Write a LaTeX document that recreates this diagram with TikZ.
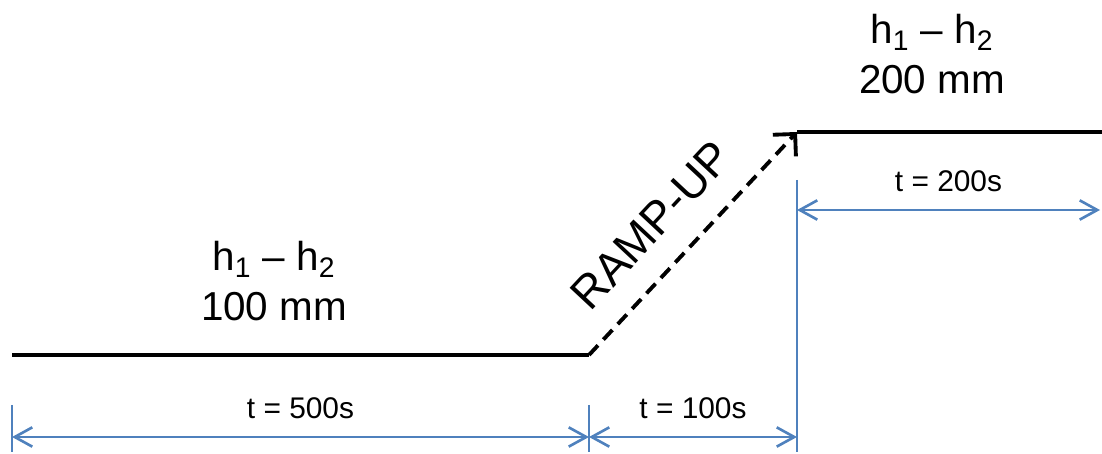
\documentclass[tikz,border=0pt]{standalone}
\usepackage{fontspec}
\setmainfont{Liberation Sans}
\usepackage{tikz}
\usetikzlibrary{positioning,arrows.meta}

\definecolor{dimblue}{RGB}{79,129,189}

\begin{document}
\begin{tikzpicture}[
    x=0.02cm, y=0.02cm,
    level/.style={line width=2.4pt},
    ramp/.style={line width=2.2pt, dash pattern=on 7.5pt off 4.5pt, -{Straight Barb[length=9pt,width=18pt]}},
    tick/.style={draw=dimblue, line width=1.5pt},
    dim/.style={draw=dimblue, line width=1.5pt, {Straight Barb[length=10pt,width=11pt]}-{Straight Barb[length=10pt,width=11pt]}},
    big/.style={font=\fontsize{23}{28}\selectfont, align=center},
    small/.style={font=\fontsize{17}{20}\selectfont}
]
    \useasboundingbox (0,0) rectangle (1102,453);

    \coordinate (start) at (12,98);
    \coordinate (rampstart) at (589,98);
    \coordinate (rampend) at (797,321);
    \coordinate (stop) at (1102,321);

    \coordinate (m0top) at (12,48);
    \coordinate (m0bot) at (12,1);
    \coordinate (m1top) at (589,48);
    \coordinate (m1bot) at (589,1);
    \coordinate (m2top) at (797,273);
    \coordinate (m2bot) at (797,1);
    \coordinate (d0) at (12,16);
    \coordinate (d1) at (589,16);
    \coordinate (d2) at (797,16);
    \coordinate (u0) at (797,243);
    \coordinate (u1) at (1100,243);

    \draw[level] (start) -- (rampstart);
    \draw[ramp] (rampstart) -- (rampend)
        node[sloped, above=11pt, pos=0.45, font=\fontsize{26}{30}\selectfont] (rampup) {RAMP-UP};
    \draw[level] (rampend) -- (stop);

    \node[big] (low) at (274,172) {h\textsubscript{1} – h\textsubscript{2}\\100 mm};
    \node[big] (high) at (932,399) {h\textsubscript{1} – h\textsubscript{2}\\200 mm};

    \draw[tick] (m0top) -- (m0bot);
    \draw[tick] (m1top) -- (m1bot);
    \draw[tick] (m2top) -- (m2bot);

    \draw[dim] (d0) -- (d1) node[small, midway, above=6pt] (t500) {t = 500s};
    \draw[dim] (d1) -- (d2) node[small, midway, above=6pt] (t100) {t = 100s};
    \draw[dim] (u0) -- (u1) node[small, midway, above=6pt] (t200) {t = 200s};
\end{tikzpicture}
\end{document}
